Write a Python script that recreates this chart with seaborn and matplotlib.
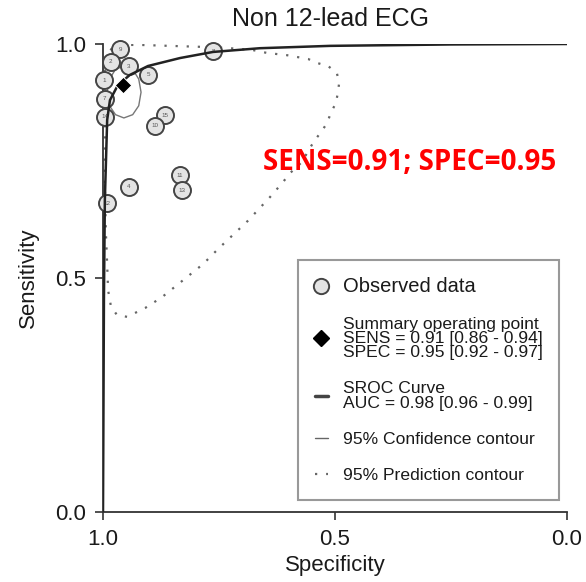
import matplotlib
matplotlib.use("Agg")
import matplotlib.pyplot as plt
from matplotlib.lines import Line2D
import seaborn as sns

# observed studies (specificity, sensitivity)
study_ids = ["9", "8", "2", "3", "5", "1", "7", "14", "15", "10", "11", "13", "4", "12"]
obs_spec = [0.963, 0.762, 0.983, 0.945, 0.902, 0.998, 0.996, 0.996, 0.866, 0.888, 0.834, 0.830, 0.945, 0.992]
obs_sens = [0.989, 0.985, 0.962, 0.952, 0.934, 0.923, 0.883, 0.845, 0.848, 0.825, 0.720, 0.688, 0.695, 0.660]

# summary operating point
summary_spec = [0.956]
summary_sens = [0.912]

# SROC curve
sroc_spec = [1.0, 0.998, 0.996, 0.991, 0.985, 0.968, 0.942, 0.903, 0.834, 0.763, 0.662, 0.511, 0.252, 0.0]
sroc_sens = [0.0, 0.453, 0.667, 0.838, 0.880, 0.912, 0.934, 0.953, 0.970, 0.983, 0.991, 0.996, 0.999, 1.0]

# 95% confidence contour
conf_spec = [0.955, 0.936, 0.923, 0.918, 0.923, 0.936, 0.955, 0.973, 0.986, 0.991, 0.986, 0.973, 0.955]
conf_sens = [0.953, 0.946, 0.925, 0.897, 0.868, 0.849, 0.842, 0.849, 0.868, 0.897, 0.925, 0.946, 0.953]

# 95% prediction contour
pred_spec = [0.996, 0.981, 0.953, 0.920, 0.856, 0.791, 0.726, 0.677, 0.647, 0.603, 0.558, 0.537,
             0.515, 0.496, 0.491, 0.494, 0.498, 0.509, 0.517, 0.530, 0.543, 0.554, 0.571, 0.597,
             0.612, 0.640, 0.672, 0.688, 0.720, 0.752, 0.784, 0.819, 0.873, 0.909, 0.948, 0.970,
             0.983, 0.989, 0.991, 0.994, 0.996, 0.996, 0.996]
pred_sens = [0.966, 0.991, 0.998, 0.998, 0.996, 0.994, 0.991, 0.987, 0.981, 0.976, 0.968, 0.959,
             0.953, 0.938, 0.917, 0.895, 0.874, 0.853, 0.831, 0.812, 0.795, 0.778, 0.748, 0.724,
             0.705, 0.673, 0.639, 0.622, 0.592, 0.562, 0.530, 0.502, 0.459, 0.436, 0.417, 0.421,
             0.440, 0.474, 0.528, 0.603, 0.709, 0.838, 0.966]

sns.set_style("ticks")
plt.rcParams['font.family'] = ['Liberation Sans', 'DejaVu Sans']

fig = plt.figure(figsize=(5.86, 5.82), dpi=100)
ax = fig.add_axes([103/586, 1-512/582, 464/586, 468/582])

sns.lineplot(x=pred_spec, y=pred_sens, sort=False, estimator=None, color='#666666',
             lw=1.6, linestyle=(0, (1, 4)), ax=ax, zorder=2)
sns.lineplot(x=conf_spec, y=conf_sens, sort=False, estimator=None, color='#777777',
             lw=1.0, ax=ax, zorder=2)
sns.scatterplot(x=obs_spec, y=obs_sens, s=150, color='#e4e4e4', edgecolor='#444444',
                linewidth=1.4, ax=ax, zorder=3, clip_on=False)
for sid, xs, ys in zip(study_ids, obs_spec, obs_sens):
    ax.text(xs, ys, sid, fontsize=4.5, ha='center', va='center', color='#555555', zorder=3.5)
sns.lineplot(x=sroc_spec, y=sroc_sens, sort=False, estimator=None, color='#222222',
             lw=1.8, ax=ax, zorder=4)
sns.scatterplot(x=summary_spec, y=summary_sens, marker='D', s=70, color='black',
                ax=ax, zorder=6)

ax.set_xlim(1.0, 0.0)
ax.set_ylim(0, 1.0)
ax.set_xticks([1.0, 0.5, 0.0])
ax.set_xticklabels(['1.0', '0.5', '0.0'])
ax.set_yticks([0.0, 0.5, 1.0])
ax.set_yticklabels(['0.0', '0.5', '1.0'])
sns.despine(ax=ax)
for s in ['left', 'bottom']:
    ax.spines[s].set_color('#333333')
    ax.spines[s].set_linewidth(1.3)
ax.tick_params(direction='out', length=6, width=1.2, labelsize=16, pad=6,
               color='#333333', labelcolor='#1a1a1a')

ax.set_xlabel('Specificity', fontsize=16, labelpad=4, color='#1a1a1a')
ax.set_ylabel('Sensitivity', fontsize=16, labelpad=12, color='#1a1a1a')
ax.set_title('Non 12-lead ECG', fontsize=18, pad=13, color='#1a1a1a', x=0.49)

fig.text(410/586, 1-163/582, 'SENS=0.91; SPEC=0.95', color='red', fontsize=20,
         fontweight='bold', family='Open Sans', ha='center', va='center')

handles = [
    Line2D([], [], ls='none', marker='o', ms=11, mfc='#e4e4e4', mec='#444444', mew=1.4),
    Line2D([], [], ls='none', marker='D', ms=8, color='black'),
    Line2D([], [], color='#444444', lw=2.5),
    Line2D([], [], color='#666666', lw=1),
    Line2D([], [], color='#666666', lw=1.6, ls=(0, (1, 4))),
]
labels = [
    'Observed data',
    'Summary operating point\nSENS = 0.91 [0.86 - 0.94]\nSPEC = 0.95 [0.92 - 0.97]',
    'SROC Curve\nAUC = 0.98 [0.96 - 0.99]',
    '95% Confidence contour',
    '95% Prediction contour',
]
leg = ax.legend(handles, labels, loc='upper left', bbox_to_anchor=(298/586, 1-260/582),
                bbox_transform=fig.transFigure, fontsize=12.6, frameon=True, fancybox=False,
                edgecolor='#999999', framealpha=1, borderpad=0.95, labelspacing=1.2,
                handlelength=0.75, handletextpad=0.85, borderaxespad=0)
leg.get_frame().set_linewidth(1.5)
leg.get_texts()[0].set_fontsize(14.5)
for t in leg.get_texts():
    t.set_color('#1a1a1a')
for t in leg.get_texts()[1:]:
    t.set_linespacing(0.95)

fig.savefig('out.png', dpi=100)
